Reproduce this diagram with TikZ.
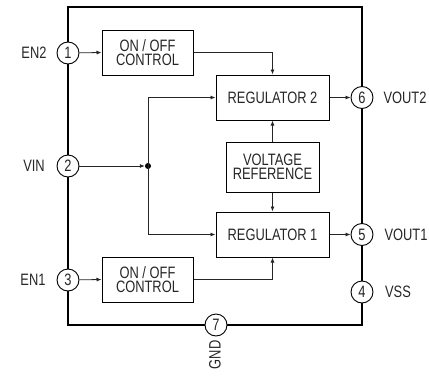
\documentclass[tikz,border=0pt]{standalone}
\usepackage{fontspec}
\setmainfont{Liberation Sans}[FakeStretch=0.78]
\usetikzlibrary{arrows.meta}
\begin{document}
\begin{tikzpicture}[x=1pt,y=-1pt,
  txt/.style={font=\fontsize{16.5}{14.5}\selectfont, text=black!85},
  blk/.style={txt, draw=black, line width=1pt, align=center, inner sep=0pt},
  pin/.style={txt, circle, draw=black, fill=white, line width=0.9pt, minimum size=22pt, inner sep=0pt},
  conn/.style={draw=black!85, line width=0.8pt, -{Latex[length=5pt,width=4pt]}},
  lbl/.style={txt, inner sep=0pt}]
\useasboundingbox (0,0) rectangle (429,378);
\draw[line width=2pt] (68,7) rectangle (362,325);
% blocks
\node[blk, minimum width=91pt, minimum height=45pt] (on2) at (147.5,52.5) {ON / OFF\\CONTROL};
\node[blk, minimum width=91pt, minimum height=45pt] (on1) at (147.5,279.5) {ON / OFF\\CONTROL};
\node[blk, minimum width=113pt, minimum height=45pt] (reg2) at (272.5,97.5) {REGULATOR 2};
\node[blk, minimum width=113pt, minimum height=45pt] (reg1) at (272.5,234.5) {REGULATOR 1};
\node[blk, minimum width=93pt, minimum height=50pt] (vr) at (272.5,167) {VOLTAGE\\REFERENCE};
% pins
\node[pin] (p1) at (68,53) {1};
\node[pin] (p2) at (68,166) {2};
\node[pin] (p3) at (68,280) {3};
\node[pin] (p6) at (362,97.5) {6};
\node[pin] (p5) at (362,234.5) {5};
\node[pin] (p4) at (362,292) {4};
\node[pin] (p7) at (216,325) {7};
% labels
\node[lbl] (l1) at (34,53) {EN2};
\node[lbl] (l2) at (34,166) {VIN};
\node[lbl] (l3) at (33,280) {EN1};
\node[lbl] (l6) at (405,98) {VOUT2};
\node[lbl] (l5) at (406,234.5) {VOUT1};
\node[lbl] (l4) at (398,292) {VSS};
\node[lbl, rotate=90] (l7) at (215,355) {GND};
% junction
\node[circle, fill=black, inner sep=0pt, minimum size=6pt] (dot) at (148,166) {};
% connectors
\draw[conn] (p1) -- (on2.west);
\draw[conn] (p3) -- (on1.west);
\draw[conn] (p2) -- (dot);
\draw[conn] (dot.center) |- (reg2.west);
\draw[conn] (dot.center) |- (reg1.west);
\draw[conn] (on2.east) -| (reg2.north);
\draw[conn] (on1.east) -| (reg1.south);
\draw[conn] (vr.north) -- (reg2.south);
\draw[conn] (vr.south) -- (reg1.north);
\draw[conn] (reg2.east) -- (p6);
\draw[conn] (reg1.east) -- (p5);
\end{tikzpicture}
\end{document}
